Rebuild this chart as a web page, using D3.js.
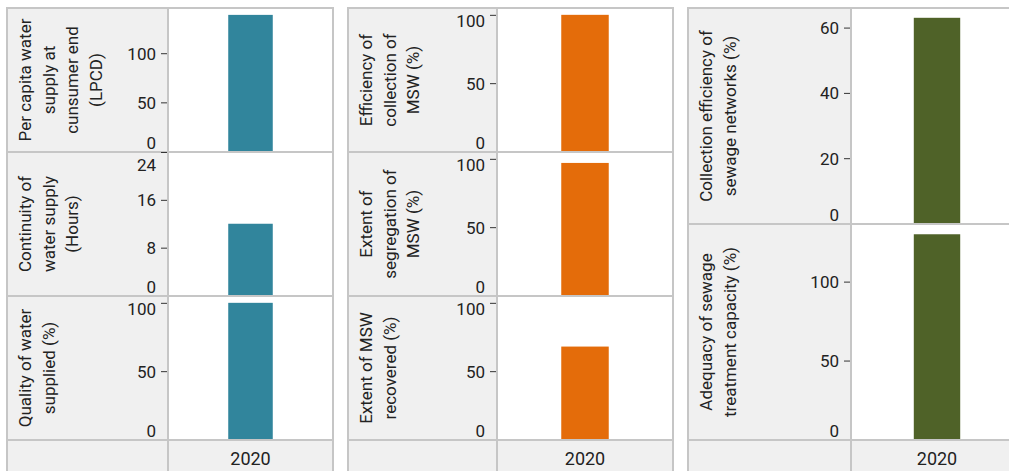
<!DOCTYPE html>
<html>
<head>
<meta charset="utf-8">
<script src="https://cdn.jsdelivr.net/npm/d3@7"></script>
<style>
  body { margin: 0; background: #fff; }
  svg text { font-family: Roboto, "Noto Sans", sans-serif; fill: #222; }
</style>
</head>
<body>
<svg width="1009" height="471"></svg>
<script>
// Data
var years = ["2020"];

var titles = [
    ["Per capita water", "supply at", "cunsumer end", "(LPCD)"],
    ["Continuity of", "water supply", "(Hours)"],
    ["Quality of water", "supplied (%)"],
    ["Efficiency of", "collection of", "MSW (%)"],
    ["Extent of", "segregation of", "MSW (%)"],
    ["Extent of MSW", "recovered (%)"],
    ["Collection efficiency of", "sewage networks (%)"],
    ["Adequacy of sewage", "treatment capacity (%)"]
];
var values   = [139, 12, 100, 100, 97, 68, 63, 130];
var axisMax  = [146, 24, 105, 105, 105, 105, 66, 136.5];
var tickSets = [
    [0, 50, 100],
    [0, 8, 16, 24],
    [0, 50, 100],
    [0, 50, 100],
    [0, 50, 100],
    [0, 50, 100],
    [0, 20, 40, 60],
    [0, 50, 100]
];
var groups = [0, 0, 0, 1, 1, 1, 2, 2];   // which column each panel belongs to
var colors = ["#31859C", "#E46C0A", "#4F6228"];

// Layout
var svg = d3.select("svg");
var border = "#c6c6c6";
var columns = [
    {x: 7,   labelW: 161, plotW: 165, rows: [[8, 152], [152, 296], [296, 440]]},
    {x: 348, labelW: 149, plotW: 176, rows: [[8, 152], [152, 296], [296, 440]]},
    {x: 688, labelW: 163, plotW: 172, rows: [[8, 224], [224, 440]]}
];
var headerY = 440, headerH = 45;

var panelIdx = 0;
columns.forEach(function(col, ci) {
    var divider = col.x + col.labelW;

    var x = d3.scaleBand()
        .domain(years)
        .range([divider, divider + col.plotW])
        .padding(0.575);

    col.rows.forEach(function(r) {
        var i = panelIdx++;
        var top = r[0], bottom = r[1];

        // Cells
        svg.append("rect")
            .attr("x", col.x).attr("y", top)
            .attr("width", col.labelW).attr("height", bottom - top)
            .attr("fill", "#f0f0f0").attr("stroke", border).attr("stroke-width", 2);
        svg.append("rect")
            .attr("x", divider).attr("y", top)
            .attr("width", col.plotW).attr("height", bottom - top)
            .attr("fill", "#fff").attr("stroke", border).attr("stroke-width", 2);

        var y = d3.scaleLinear()
            .domain([0, axisMax[i]])
            .range([bottom - 0.5, top]);

        // Bar
        svg.append("rect")
            .attr("x", x(years[0]))
            .attr("y", y(values[i]))
            .attr("width", x.bandwidth())
            .attr("height", y(0) - y(values[i]))
            .attr("fill", colors[ci]);

        // Axis
        var axis = svg.append("g")
            .attr("transform", "translate(" + (divider - 1) + ",0)")
            .call(d3.axisLeft(y).tickValues(tickSets[i]).tickSize(6).tickPadding(5));
        axis.select(".domain").remove();
        axis.selectAll(".tick line").attr("stroke", "#333");
        axis.selectAll(".tick text")
            .attr("font-size", 17)
            .attr("fill", "#222")
            .attr("dy", null)
            .attr("y", function(d) {
                var t = y(d);
                var base = t + 6;
                base = Math.max(base, top + 18 - t + t);
                base = Math.min(base, bottom - 4);
                return base - t;
            });

        // Title (rotated, one line per entry)
        var cy = (top + bottom) / 2;
        titles[i].forEach(function(line, li) {
            svg.append("text")
                .attr("transform", "translate(" + (col.x + 24 + li * 23.5) + "," + cy + ") rotate(-90)")
                .attr("text-anchor", "middle")
                .attr("font-size", 17)
                .text(line);
        });
    });

    // Bottom header
    svg.append("rect")
        .attr("x", col.x).attr("y", headerY)
        .attr("width", col.labelW).attr("height", headerH)
        .attr("fill", "#f0f0f0").attr("stroke", border).attr("stroke-width", 2);
    svg.append("rect")
        .attr("x", divider).attr("y", headerY)
        .attr("width", col.plotW).attr("height", headerH)
        .attr("fill", "#f0f0f0").attr("stroke", border).attr("stroke-width", 2);
    svg.append("text")
        .attr("x", x(years[0]) + x.bandwidth() / 2)
        .attr("y", 465)
        .attr("text-anchor", "middle")
        .attr("font-size", 18)
        .text(years[0]);
});
</script>
</body>
</html>
